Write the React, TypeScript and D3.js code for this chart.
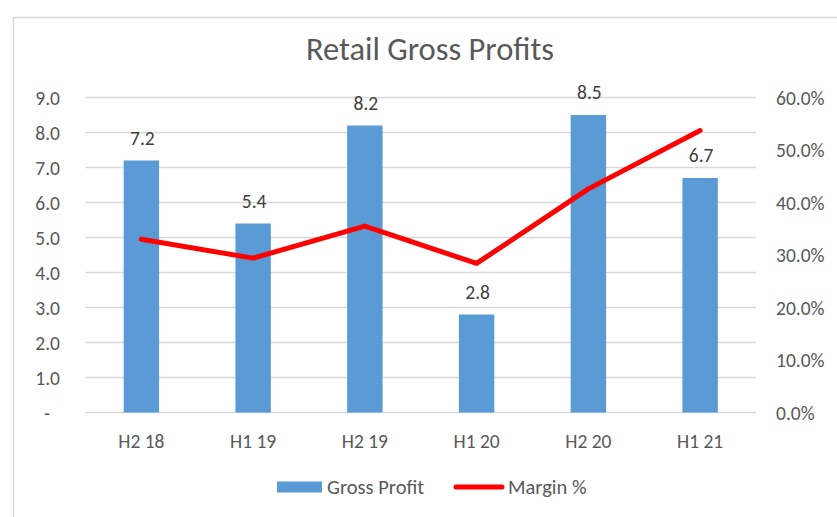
import { useRef, useEffect } from "react";
import * as d3 from "d3";

const periods = ["H2 18", "H1 19", "H2 19", "H1 20", "H2 20", "H1 21"];
const grossProfit = [7.2, 5.4, 8.2, 2.8, 8.5, 6.7];
const marginPct = [0.33, 0.294, 0.355, 0.284, 0.426, 0.537];
const leftTicks = [0, 1, 2, 3, 4, 5, 6, 7, 8, 9];
const rightTicks = [0, 0.1, 0.2, 0.3, 0.4, 0.5, 0.6];

const FONT = "Carlito, Calibri, Lato, sans-serif";
const TEXT = "#595959";
const LABEL_SIZE = 19.5;

function App() {
  const svgRef = useRef(null);
  const width = 837;
  const height = 517;

  useEffect(() => {
    const svg = d3.select(svgRef.current);
    svg.selectAll("*").remove();

    const left = 85.5;
    const right = 756;
    const top = 97.5;
    const bottom = 412.5;

    // chart frame
    svg
      .append("rect")
      .attr("x", 13.5)
      .attr("y", 17.5)
      .attr("width", 900)
      .attr("height", 600)
      .attr("fill", "#fff")
      .attr("stroke", "#d9d9d9")
      .attr("stroke-width", 1.5);

    svg
      .append("text")
      .attr("x", 430)
      .attr("y", 60)
      .attr("text-anchor", "middle")
      .attr("font-family", FONT)
      .attr("font-size", 32.5)
      .attr("font-weight", 300)
      .attr("fill", TEXT)
      .text("Retail Gross Profits");

    const x = d3.scaleBand().domain(periods).range([left, right]).padding(0);
    const y = d3.scaleLinear().domain([0, 9]).range([bottom, top]);
    const y2 = d3.scaleLinear().domain([0, 0.6]).range([bottom, top]);
    const barW = x.bandwidth() * 0.317;

    // gridlines
    svg
      .append("g")
      .selectAll("line")
      .data(leftTicks)
      .join("line")
      .attr("x1", left)
      .attr("x2", right)
      .attr("y1", (d) => y(d))
      .attr("y2", (d) => y(d))
      .attr("stroke", "#d9d9d9")
      .attr("stroke-width", 1.5);

    // left axis labels
    svg
      .append("g")
      .selectAll("text")
      .data(leftTicks)
      .join("text")
      .attr("x", (d) => (d === 0 ? 47 : 60))
      .attr("y", (d) => y(d) + 7)
      .attr("text-anchor", (d) => (d === 0 ? "middle" : "end"))
      .attr("font-family", FONT)
      .attr("font-size", LABEL_SIZE)
      .attr("fill", TEXT)
      .text((d) => (d === 0 ? "-" : d3.format(".1f")(d)));

    // right axis labels
    svg
      .append("g")
      .selectAll("text")
      .data(rightTicks)
      .join("text")
      .attr("x", 776)
      .attr("y", (d) => y2(d) + 7)
      .attr("font-family", FONT)
      .attr("font-size", LABEL_SIZE)
      .attr("fill", TEXT)
      .text((d) => d3.format(".1%")(d));

    // bars
    svg
      .append("g")
      .selectAll("rect")
      .data(grossProfit)
      .join("rect")
      .attr("x", (d, i) => x(periods[i]) + x.bandwidth() / 2 - barW / 2)
      .attr("y", (d) => y(d))
      .attr("width", barW)
      .attr("height", (d) => bottom - y(d))
      .attr("fill", "#5b9bd5");

    // bar labels
    svg
      .append("g")
      .selectAll("text")
      .data(grossProfit)
      .join("text")
      .attr("x", (d, i) => x(periods[i]) + x.bandwidth() / 2 + 1)
      .attr("y", (d) => y(d) - 16)
      .attr("text-anchor", "middle")
      .attr("font-family", FONT)
      .attr("font-size", LABEL_SIZE)
      .attr("fill", "#404040")
      .text((d) => d3.format(".1f")(d));

    // margin line
    const line = d3
      .line()
      .x((d, i) => x(periods[i]) + x.bandwidth() / 2)
      .y((d) => y2(d));

    svg
      .append("path")
      .datum(marginPct)
      .attr("d", line)
      .attr("fill", "none")
      .attr("stroke", "#ff0000")
      .attr("stroke-width", 5)
      .attr("stroke-linejoin", "round")
      .attr("stroke-linecap", "round");

    // x labels
    svg
      .append("g")
      .selectAll("text")
      .data(periods)
      .join("text")
      .attr("x", (d) => x(d) + x.bandwidth() / 2)
      .attr("y", 448)
      .attr("text-anchor", "middle")
      .attr("font-family", FONT)
      .attr("font-size", LABEL_SIZE)
      .attr("fill", TEXT)
      .text((d) => d);

    // legend
    const legend = svg.append("g");
    legend
      .append("rect")
      .attr("x", 277)
      .attr("y", 481.5)
      .attr("width", 45)
      .attr("height", 11)
      .attr("fill", "#5b9bd5");
    legend
      .append("text")
      .attr("x", 327)
      .attr("y", 494)
      .attr("font-family", FONT)
      .attr("font-size", LABEL_SIZE + 1)
      .attr("fill", TEXT)
      .text("Gross Profit");
    legend
      .append("line")
      .attr("x1", 456)
      .attr("x2", 502)
      .attr("y1", 487)
      .attr("y2", 487)
      .attr("stroke", "#ff0000")
      .attr("stroke-width", 5)
      .attr("stroke-linecap", "round");
    legend
      .append("text")
      .attr("x", 508)
      .attr("y", 494)
      .attr("font-family", FONT)
      .attr("font-size", LABEL_SIZE + 1)
      .attr("fill", TEXT)
      .text("Margin %");
  }, []);

  return (
    <div style={{ position: "absolute", left: 0, top: 0 }}>
      <svg ref={svgRef} width={width} height={height} style={{ display: "block" }} />
    </div>
  );
}

export default App;
